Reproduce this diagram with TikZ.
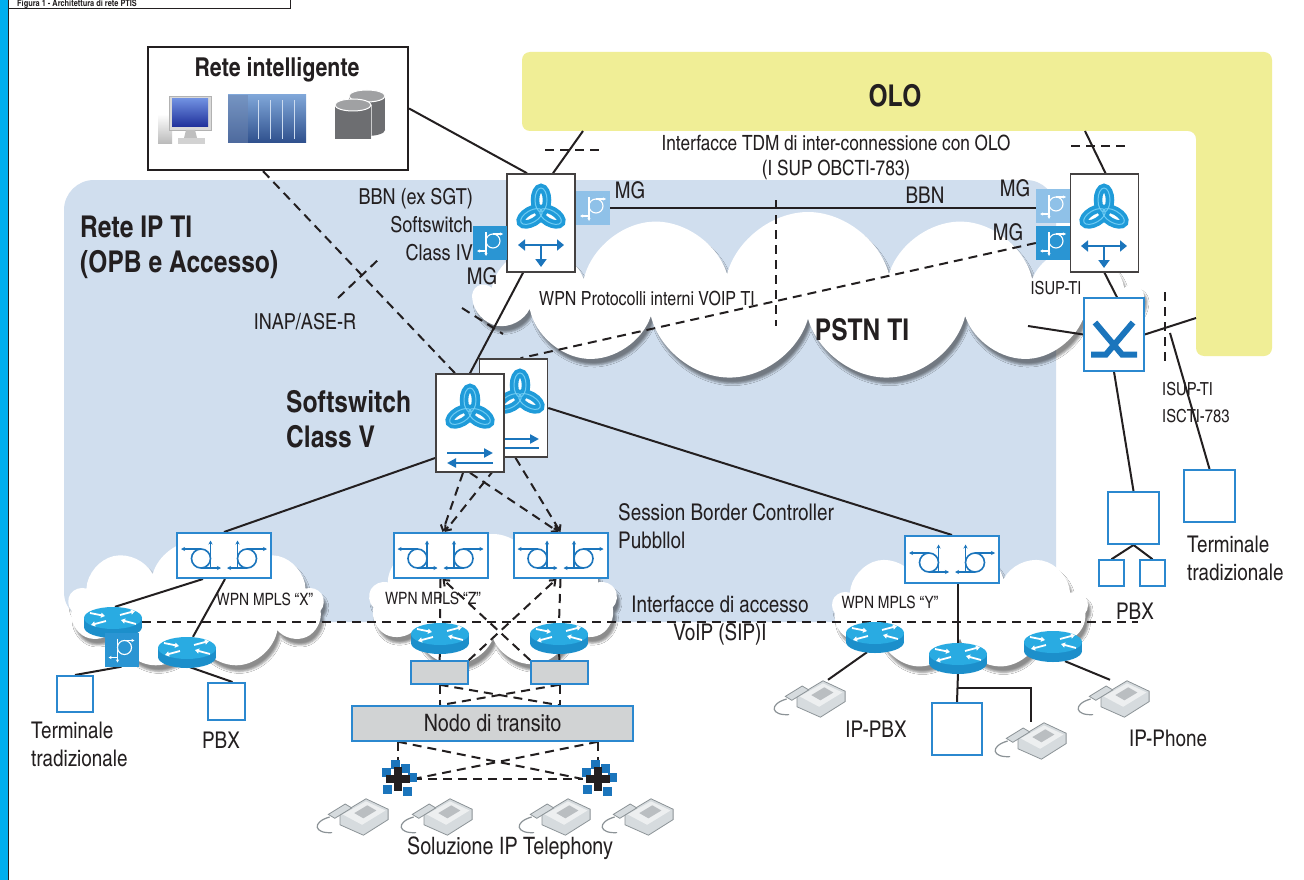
\documentclass[tikz,border=0pt]{standalone}
\usepackage{fontspec}
\setmainfont{texgyreheroscn}[Extension=.otf,UprightFont=*-regular,BoldFont=*-bold]
\usetikzlibrary{arrows.meta,shapes.symbols,shadows.blur,calc}

\definecolor{cyanbar}{HTML}{00AEEF}
\definecolor{ipblue}{HTML}{D0DEEE}
\definecolor{oloyellow}{HTML}{F0EE96}
\definecolor{iconblue}{HTML}{1B75BC}
\definecolor{edgeblue}{HTML}{2B88CF}
\definecolor{mgdark}{HTML}{2A95D3}
\definecolor{mglight}{HTML}{8FC1E8}
\definecolor{trefblue}{HTML}{1F9BD9}
\definecolor{treflight}{HTML}{6FCBF3}
\definecolor{routertop}{HTML}{29ABE2}
\definecolor{routerside}{HTML}{1C8FCB}
\definecolor{boxgrey}{HTML}{D1D3D4}
\definecolor{phonegrey}{HTML}{D6DBDE}
\definecolor{phoneedge}{HTML}{8C9397}
\definecolor{dbgrey}{HTML}{6D6E71}
\definecolor{servlight}{HTML}{7FA6D8}
\definecolor{servdark}{HTML}{2E4F8C}
\definecolor{screenlight}{HTML}{6F8FE0}
\definecolor{screendark}{HTML}{1E2F9A}
\definecolor{ink}{HTML}{231F20}

\pgfdeclarelayer{bg}
\pgfdeclarelayer{wires}
\pgfsetlayers{bg,wires,main}

\tikzset{
  lbl/.style={font=\fontsize{23}{28}\selectfont, text=ink, inner sep=0},
  lblsm/.style={font=\fontsize{18}{27}\selectfont, text=ink, inner sep=0},
  bigbold/.style={font=\fontsize{30}{35}\selectfont\bfseries, text=ink, inner sep=0, align=left},
  wire/.style={line width=2pt, ink},
  dwire/.style={wire, dash pattern=on 9pt off 6pt},
  tip/.style={-{Straight Barb[length=5pt,width=8pt]}},
  ssbox/.style={draw=ink!85, line width=1.6pt, fill=white, minimum width=68pt, minimum height=98pt, inner sep=0},
  mgbox/.style={fill=mgdark, minimum size=34pt, inner sep=0},
  sbcbox/.style={draw=edgeblue, line width=2pt, fill=white, minimum width=94pt, minimum height=45pt, inner sep=0},
  termbox/.style={draw=edgeblue, line width=2pt, fill=white, inner sep=0},
  greybox/.style={draw=edgeblue, line width=1.5pt, fill=boxgrey, inner sep=0},
  spot/.style={minimum width=58pt, minimum height=30pt, inner sep=0},
  wpncloud/.style={cloud, cloud ignores aspect, cloud puff arc=150, fill=white, inner sep=0,
    blur shadow={shadow xshift=3pt, shadow yshift=-6pt, shadow opacity=45}},
}

% icons
\tikzset{
  trefoil/.pic={
    \foreach \a in {90,210,330}
      \draw[trefblue, line width=8.5pt, rotate=\a] (11,0) ellipse (12 and 6);
    \foreach \a in {90,210,330}
      \draw[treflight, line width=1pt, rotate=\a] (11,0) ellipse (12 and 6);
  },
  bbnarrows/.pic={
    \draw[iconblue, line width=2.6pt, {Triangle[length=7pt,width=11pt]}-{Triangle[length=7pt,width=11pt]}] (-23,0) -- (23,0);
    \draw[iconblue, line width=2.6pt, -{Triangle[length=8pt,width=11pt]}] (0,0) -- (0,22);
  },
  ssarrows/.pic={
    \draw[iconblue, line width=2.4pt, -{Triangle[length=9pt,width=9pt]}] (-23,-5) -- (23,-5);
    \draw[iconblue, line width=2.4pt, -{Triangle[length=9pt,width=9pt]}] (23,5) -- (-23,5);
  },
  ssbackarrows/.pic={
    \draw[iconblue, line width=2.4pt, -{Triangle[length=9pt,width=9pt]}] (-23,-4) -- (23,-4);
    \draw[iconblue, line width=2.4pt] (-23,5) -- (23,5);
  },
  sbcsym/.pic={
    \begin{scope}[iconblue, line width=1.6pt]
      \draw[-{Stealth[length=4pt,width=4pt]}] (-13.5,12.5) -- (-13.5,-15);
      \draw (-23,3) circle (9.5);
      \draw[-{Stealth[length=4pt,width=4pt]}] (-23,-6.5) -- (-43,-6.5);
      \draw[-{Stealth[length=4pt,width=4pt]}] (-23,12.5) -- (-3,12.5);
      \draw[-{Stealth[length=4pt,width=4pt]}] (13.5,12.5) -- (13.5,-15);
      \draw (23,3) circle (9.5);
      \draw[-{Stealth[length=4pt,width=4pt]}] (23,-6.5) -- (43,-6.5);
      \draw[-{Stealth[length=4pt,width=4pt]}] (23,12.5) -- (3,12.5);
    \end{scope}
  },
  mgsym/.pic={
    \begin{scope}[white, line width=1.1pt]
      \draw[-{Stealth[length=3pt,width=3pt]}] (-4,-11) -- (-4,13);
      \draw (3,-2) circle (7);
      \draw[-{Stealth[length=3pt,width=3pt]}] (3,-9) -- (13,-9);
      \draw[-{Stealth[length=3pt,width=3pt]}] (-4,8) -- (-13,8);
    \end{scope}
  },
  xswitch/.pic={
    \draw[iconblue, line width=6pt] (-19,-12) -- (8,20) -- (23,20);
    \draw[iconblue, line width=6pt] (19,-12) -- (-8,20) -- (-23,20);
  },
  router/.pic={
    \fill[routerside] (0,5) ellipse (29 and 11);
    \fill[routerside] (-29,-4) rectangle (29,5);
    \fill[routertop] (0,-4) ellipse (29 and 11);
    \begin{scope}[white, line width=1.8pt, -{Triangle[length=4pt,width=5pt]}]
      \draw (-23,-9) -- (-8,-6);
      \draw (7,-7) -- (22,-11);
      \draw (-7,-1) -- (-22,3);
      \draw (23,2) -- (8,-2);
    \end{scope}
  },
  phone/.pic={
    \begin{scope}[scale=1.3]
      \filldraw[fill=phonegrey, draw=phoneedge, line width=0.8pt]
        (-10,-2) -- (10,-14) -- (27,-6) -- (27,2) -- (8,14) -- (-10,6) -- cycle;
      \fill[white!55!phonegrey] (-8,-2) -- (10,-12) -- (25,-5) -- (7,6) -- cycle;
      \fill[phoneedge!60] (1,-3) -- (11,-9) -- (18,-5) -- (8,1) -- cycle;
      \filldraw[fill=phonegrey, draw=phoneedge, line width=0.8pt]
        (-19,-2) -- (-6,-10) -- (-1,-7) -- (-14,1) -- cycle;
      \draw[phoneedge, line width=1.2pt] (-18,0) .. controls (-32,4) and (-30,13) .. (-16,12);
    \end{scope}
  },
  hubsym/.pic={
    \foreach \x/\y in {-12/-7,-3/-15,7/-11,14/-2,-11/10,9/12}
      \fill[iconblue] (\x-4.5,\y-4.5) rectangle ++(9,9);
    \fill[ink] (-4,-12) rectangle (4,12);
    \fill[ink] (-12,-4) rectangle (12,4);
  },
  monitor/.pic={
    \shade[top color=white, bottom color=gray!55] (-28,-4) rectangle (-14,26);
    \filldraw[fill=gray!30, draw=gray!60] (-17,-22) rectangle (25,12);
    \shade[top color=screenlight, bottom color=screendark] (-14,-19) rectangle (22,9);
    \fill[gray!50] (0,12) -- (9,12) -- (11,20) -- (-2,20) -- cycle;
    \fill[gray!35] (-8,20) rectangle (19,26);
  },
  server/.pic={
    \shade[top color=servlight, bottom color=servdark] (-38,-23) rectangle (40,25);
    \fill[servdark!70, opacity=0.5] (-38,-23) rectangle (-18,25);
    \foreach \x in {-8,4,16,28}
      \draw[white!60!servlight, line width=0.8pt] (\x,-18) -- (\x,21);
  },
  dbstack/.pic={
    \fill[dbgrey] (-8,-20) rectangle (28,14);
    \fill[dbgrey] (10,14) ellipse (18 and 6);
    \filldraw[fill=dbgrey!65, draw=white, line width=1pt] (10,-20) ellipse (18 and 6);
    \filldraw[fill=dbgrey, draw=white, line width=1pt] (-22,-11) -- (-22,23) arc[start angle=180, end angle=360, x radius=18, y radius=6] -- (14,-11);
    \fill[dbgrey] (-22,-11) rectangle (14,23);
    \filldraw[fill=dbgrey!65, draw=white, line width=1pt] (-4,-11) ellipse (18 and 6);
  },
}

\begin{document}
\begin{tikzpicture}[x=1pt,y=-1pt]
\useasboundingbox (0,0) rectangle (1304,880);

% regions and clouds
\begin{pgfonlayer}{bg}
  \fill[white] (0,0) rectangle (1304,880);
  \fill[cyanbar] (0,0) rectangle (8,880);
  \draw[ink, line width=1pt] (8,0) -- (8,880);
  \fill[ipblue, rounded corners=30pt] (64,180) rectangle (1056,622);
  \fill[oloyellow, rounded corners=8pt] (522,52) -- (1272,52) -- (1272,356) -- (1196,356)
       -- (1196,131) -- (522,131) -- cycle;
  \node[wpncloud, cloud puffs=13, minimum width=665pt, minimum height=168pt] (pstn) at (808,296) {};
  \node[wpncloud, cloud puffs=9, minimum width=255pt, minimum height=128pt] (wpnX) at (196,605) {};
  \node[wpncloud, cloud puffs=9, minimum width=248pt, minimum height=134pt] (wpnZ) at (493,601) {};
  \node[wpncloud, cloud puffs=9, minimum width=255pt, minimum height=124pt] (wpnY) at (960,608) {};
\end{pgfonlayer}

% title frame
\draw[ink, line width=1pt, fill=white] (8,-30) rectangle (290,9);
\node[anchor=base west, font=\fontsize{9}{10}\selectfont\bfseries, text=ink, inner sep=0] at (17,7)
  {Figura 1 - Architettura di rete PTIS};

% Rete intelligente
\node[draw=ink, line width=2.2pt, fill=white, minimum width=260pt, minimum height=123pt] (ri) at (278,108.5) {};
\node[font=\fontsize{26}{30}\selectfont\bfseries, text=ink, inner sep=0] at (277,70) {Rete intelligente};
\node[minimum width=50pt, minimum height=50pt, inner sep=0] (mon) at (186,118) {};
\node[minimum width=80pt, minimum height=50pt, inner sep=0] (srv) at (266,118) {};
\node[minimum width=56pt, minimum height=58pt, inner sep=0] (dbs) at (357,116) {};
\pic at (mon) {monitor};
\pic at (srv) {server};
\pic at (dbs) {dbstack};

% BBN softswitch class IV
\node[ssbox] (bbnL) at (541,223) {};
\pic at (541,211) {trefoil};
\pic at (541,245) {bbnarrows};
\node[mgbox] (mgL1) at (490,243) {};
\node[mgbox, fill=mglight] (mgL2) at (593,208) {};
\node[ssbox] (bbnR) at (1104.5,223) {};
\pic at (1104,211) {trefoil};
\pic at (1104,246) {bbnarrows};
\node[mgbox, fill=mglight] (mgR1) at (1053,206) {};
\node[mgbox] (mgR2) at (1053,243) {};
\foreach \m in {mgL1,mgL2,mgR1,mgR2}
  \pic at (\m) {mgsym};

% PSTN exchange
\node[draw=edgeblue, line width=1.5pt, fill=white, minimum width=60pt, minimum height=73pt, inner sep=0] (sx) at (1114,334.5) {};
\pic at (sx) {xswitch};

% softswitch class V
\node[ssbox] (ssB) at (513.5,408) {};
\pic at (520,396) {trefoil};
\pic at (516,443) {ssbackarrows};
\node[ssbox] (ssF) at (470,423) {};
\pic at (470,411) {trefoil};
\pic at (470,458) {ssarrows};

% session border controllers
\node[sbcbox] (sbcX) at (224,555.5) {};
\node[sbcbox] (sbcZ1) at (440.5,555.5) {};
\node[sbcbox] (sbcZ2) at (560.5,555.5) {};
\node[sbcbox, minimum height=47pt] (sbcY) at (952,559.5) {};
\foreach \s in {sbcX,sbcZ1,sbcZ2,sbcY}
  \pic at (\s) {sbcsym};

% routers
\foreach \n/\x/\y in {rx1/113/622, rx2/187/652, rz1/440/638, rz2/559/638,
                      ry1/875/637, ry2/958/658, ry3/1053/646} {
  \node[spot] (\n) at (\x,\y) {};
  \pic at (\n) {router};
}

% phones
\foreach \n/\x/\y in {ph1/353/817, ph2/437/817, ph3/555/817, ph4/638/817,
                      ph5/810/699, ph6/1031/741, ph7/1114/699} {
  \node[minimum width=60pt, minimum height=38pt, inner sep=0] (\n) at (\x,\y) {};
  \pic at (\n) {phone};
}

% terminals, PBX and transit
\node[mgbox] (mgX) at (121.5,649.5) {};
\pic at (mgX) {mgsym};
\node[termbox, minimum size=36pt] (termL) at (75,694) {};
\node[termbox, minimum size=37pt] (pbxL) at (226.5,701.5) {};
\node[greybox, minimum width=57pt, minimum height=23pt] (g1) at (439.5,672.5) {};
\node[greybox, minimum width=57pt, minimum height=23pt] (g2) at (559.5,672.5) {};
\node[greybox, minimum width=281pt, minimum height=35pt, font=\fontsize{24}{28}\selectfont, text=ink] (nodo) at (492.5,723.5) {Nodo di transito};
\node[minimum size=30pt, inner sep=0] (hub1) at (398,779) {};
\node[minimum size=30pt, inner sep=0] (hub2) at (598,779) {};
\pic at (hub1) {hubsym};
\pic at (hub2) {hubsym};
\node[termbox, minimum width=50pt, minimum height=52pt] (boxY) at (957,729) {};
\node[termbox, minimum width=51pt, minimum height=52pt] (pbxR) at (1133.5,518) {};
\node[termbox, line width=1.5pt, minimum width=25pt, minimum height=26pt] (pbxRa) at (1111.5,573) {};
\node[termbox, line width=1.5pt, minimum width=25pt, minimum height=26pt] (pbxRb) at (1152.5,573) {};
\node[termbox, minimum width=51pt, minimum height=52pt] (termR) at (1209.5,496) {};

% free ends
\coordinate (oloL) at (583,131);
\coordinate (oloR) at (1085,131);
\coordinate (oloS) at (1196,318);
\coordinate (pstnR) at (1028,326);
\coordinate (isupR) at (1170,333);
\coordinate (tdmA) at (776,200);
\coordinate (tdmB) at (776,326);
\coordinate (inapA) at (338,298);
\coordinate (inapB) at (380,258);
\coordinate (mgA) at (462,308);
\coordinate (mgB) at (503,334);
\coordinate (accEnd) at (1138,622);

% connectors
\begin{pgfonlayer}{wires}
  \draw[wire, line width=1.5pt] (mon.east) -- (srv.west);
  \draw[wire, line width=1.5pt] (srv.east) -- (dbs.west);
  \draw[wire] (ri.east) -- ([xshift=-14pt]bbnL.north);
  \draw[wire] ([xshift=12pt]bbnL.north) -- (oloL);
  \draw[wire] ([xshift=1pt]bbnR.north) -- (oloR);
  \draw[wire] (mgL2.east) -- (mgL2.east -| mgR1.west);
  \draw[wire] ([xshift=-18pt]bbnL.south) -- (ssF.north);
  \draw[wire] (bbnR.south) -- ([xshift=3pt]sx.north);
  \draw[wire] (pstnR) -- (sx.west);
  \draw[wire] (sx.east) -- (oloS);
  \draw[wire] (isupR) -- (termR.north);
  \draw[wire] (sx.south) -- (pbxR.north);
  \draw[wire] (pbxR.south) -- (pbxRa.north);
  \draw[wire] (pbxR.south) -- (pbxRb.north);
  \draw[wire] (ssB.east) -- (sbcY.north);
  \draw[wire] ([yshift=-35pt]ssF.west) -- (sbcX.north);
  \draw[wire] ([xshift=-21pt]sbcX.south) -- ([xshift=2pt]rx1.north);
  \draw[wire] ([xshift=1pt]sbcX.south) -- ([xshift=6pt]rx2.north);
  \draw[wire] (mgX.south) -- (termL.north);
  \draw[wire] ([xshift=3pt]rx2.south) -- ([xshift=6pt]pbxL.north);
  \draw[wire] ([xshift=6pt]sbcY.south) -- (ry2.north);
  \draw[wire] (ry2.south) -- (boxY.north);
  \draw[wire] ($(ry2.south)!0.5!(boxY.north)$) -| (ph6.north);
  \draw[wire] ([xshift=-8pt]ry1.south) -- ([xshift=18pt]ph5.north);
  \draw[wire] ([xshift=12pt]ry3.south) -- ([xshift=-4pt]ph7.north);
  \draw[wire] (rz1.south) -- (g1.north);
  \draw[wire] (rz2.south) -- (g2.north);

  \draw[dwire] ([xshift=-15pt]ri.south) -- ([xshift=-15pt]ssF.north);
  \draw[dwire] (inapA) -- (inapB);
  \draw[dwire] (mgA) -- (mgB);
  \draw[dwire] (mgR2.west) -- ([xshift=7pt]ssB.north);
  \draw[dwire] (tdmA) -- (tdmB);
  \draw[dwire] (545,150) -- (600,150);
  \draw[dwire] (1071,146) -- (1125,146);
  \draw[dwire] (1165,292) -- (1165,362);
  \draw[dwire] (rx1.east) -- (accEnd);

  \draw[dwire, tip] ([xshift=-7pt]ssF.south) -- ([xshift=2pt]sbcZ1.north);
  \draw[dwire, tip] (ssF.south) -- ([xshift=-2pt]sbcZ2.north);
  \draw[dwire, tip] ([xshift=-10pt]ssB.south) -- ([xshift=4pt]sbcZ1.north);
  \draw[dwire, tip] ([xshift=2pt]ssB.south) -- (sbcZ2.north);
  \draw[dwire] (sbcZ1.south) -- (rz1.north);
  \draw[dwire] (sbcZ2.south) -- (rz2.north);
  \draw[dwire, tip] (g1.north east) -- ([xshift=-4pt]sbcZ2.south);
  \draw[dwire, tip] (g2.north west) -- ([xshift=2pt]sbcZ1.south);
  \draw[dwire] (g1.south) -- (g1.south |- nodo.north);
  \draw[dwire] (g2.south) -- (g2.south |- nodo.north);
  \draw[dwire] (g1.south) -- (g2.south |- nodo.north);
  \draw[dwire] (g2.south) -- (g1.south |- nodo.north);
  \draw[dwire] (hub1.north |- nodo.south) -- (hub1.north);
  \draw[dwire] (hub2.north |- nodo.south) -- (hub2.north);
  \draw[dwire] (hub1.north |- nodo.south) -- (hub2.west);
  \draw[dwire] (hub2.north |- nodo.south) -- (hub1.east);
  \draw[dwire] (hub1.east) -- (hub2.west);
\end{pgfonlayer}

% labels
\node[font=\fontsize{30}{35}\selectfont\bfseries, text=ink, inner sep=0] at (895,96) {OLO};
\node[font=\fontsize{30}{35}\selectfont\bfseries, text=ink, inner sep=0] at (862,330) {PSTN TI};
\node[bigbold, anchor=west] at (80,247) {Rete IP TI\\(OPB e Accesso)};
\node[bigbold, anchor=west] at (286,419) {Softswitch\\Class V};
\node[lbl, font=\fontsize{22}{28}\selectfont, align=right, anchor=east] at (473,225) {BBN (ex SGT)\\Softswitch\\Class IV};
\node[lbl] at (630,190) {MG};
\node[lbl] at (482,276) {MG};
\node[lbl] at (1015,188) {MG};
\node[lbl] at (1008,232) {MG};
\node[lbl] at (925,195) {BBN};
\node[lbl, font=\fontsize{21}{27}\selectfont] at (836,143) {Interfacce TDM di inter-connessione con OLO};
\node[lbl, font=\fontsize{21}{27}\selectfont] at (836,170) {(I SUP OBCTI-783)};
\node[lblsm] at (1056,288) {ISUP-TI};
\node[lbl, font=\fontsize{19.5}{24}\selectfont] at (647,298) {WPN Protocolli interni VOIP TI};
\node[lbl, font=\fontsize{22}{26}\selectfont] at (305,322) {INAP/ASE-R};
\node[lbl, align=left, anchor=west] at (618,526) {Session Border Controller\\Pubbllol};
\node[lbl, align=center] at (720,621) {Interfacce di accesso\\VoIP (SIP)I};
\node[lbl, font=\fontsize{17}{20}\selectfont] at (265,599) {WPN MPLS “X”};
\node[lbl, font=\fontsize{17}{20}\selectfont] at (433,598) {WPN MPLS “Z”};
\node[lbl, font=\fontsize{17}{20}\selectfont] at (890,602) {WPN MPLS “Y”};
\node[lblsm, align=left, anchor=west] at (1162,403) {ISUP-TI\\ISCTI-783};
\node[lbl] at (1135,611) {PBX};
\node[lbl, align=left, anchor=west] at (1187,558) {Terminale\\tradizionale};
\node[lbl] at (876,729) {IP-PBX};
\node[lbl] at (1168,738) {IP-Phone};
\node[lbl, align=left, anchor=west] at (31,744) {Terminale\\tradizionale};
\node[lbl] at (221,740) {PBX};
\node[lbl, font=\fontsize{24}{28}\selectfont] at (510,848) {Soluzione IP Telephony};
\end{tikzpicture}
\end{document}
